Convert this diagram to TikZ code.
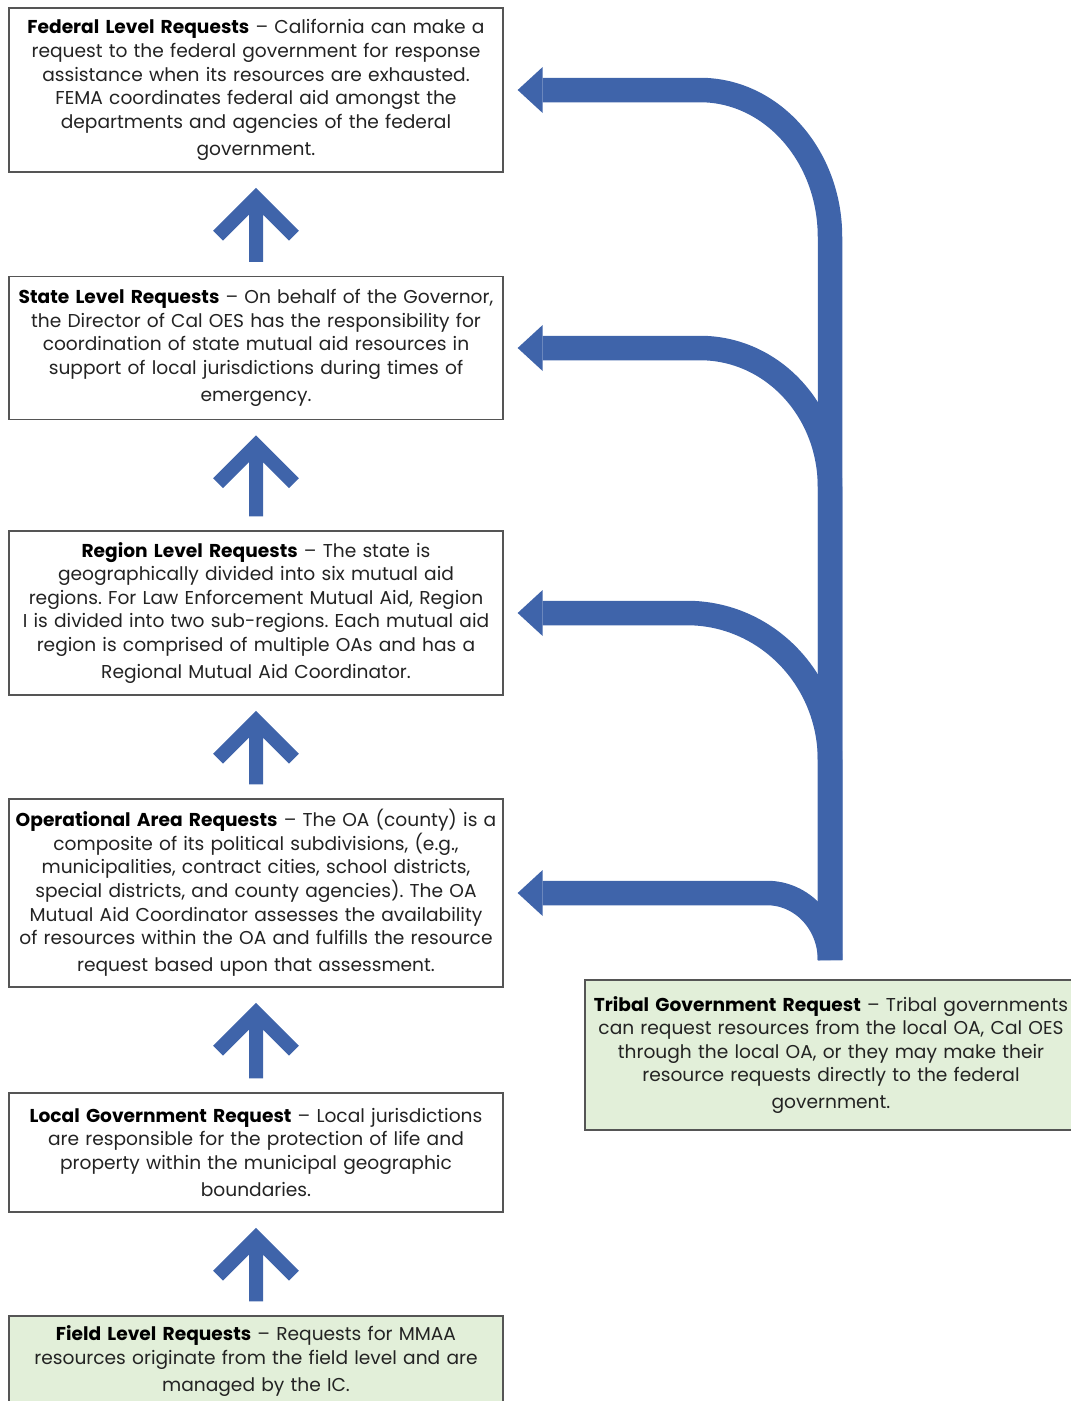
\documentclass[tikz,border=0pt]{standalone}
\usepackage{fontspec}
\setmainfont{Poppins}
\frenchspacing
\usepackage{xcolor}
\usepackage{tikz}
\usetikzlibrary{calc, arrows.meta}
\definecolor{flowblue}{RGB}{63, 100, 170}
\definecolor{paleg}{RGB}{226, 239, 217}
\definecolor{boxline}{RGB}{85, 85, 85}
\definecolor{bodytext}{RGB}{35, 35, 35}

\tikzset{
    reqbox/.style={draw=boxline, line width=0.8pt, fill=white, align=center,
        inner sep=0pt, text width=9.8cm, minimum width=9.88cm,
        font=\fontsize{10.6}{13.4}\selectfont, text=bodytext},
    greenbox/.style={reqbox, fill=paleg},
    chevron/.style={draw=flowblue, line width=0.28cm, line join=miter},
    branch/.style={draw=flowblue, line width=0.49cm,
        -{Triangle[length=0.5cm, width=0.92cm, line width=0pt]}}
}

\begin{document}
\begin{tikzpicture}[x=0.02cm, y=-0.02cm]
    \useasboundingbox (0,0) rectangle (1071,1401);

    % request levels, top to bottom
    \node[reqbox, minimum height=3.28cm] (federal) at (256,90)
        {\textbf{\color{black}Federal Level Requests} – California can make a\\
         request to the federal government for response\\
         assistance when its resources are exhausted.\\
         FEMA coordinates federal aid amongst the\\
         departments and agencies of the federal\\[2pt]
         government.};
    \node[reqbox, minimum height=2.86cm] (state) at (256,348)
        {\textbf{\color{black}State Level Requests} – On behalf of the Governor,\\
         the Director of Cal OES has the responsibility for\\
         coordination of state mutual aid resources in\\
         support of local jurisdictions during times of\\[2pt]
         emergency.};
    \node[reqbox, minimum height=3.28cm] (region) at (256,613)
        {\textbf{\color{black}Region Level Requests} – The state is\\
         geographically divided into six mutual aid\\
         regions. For Law Enforcement Mutual Aid, Region\\
         I is divided into two sub-regions. Each mutual aid\\
         region is comprised of multiple OAs and has a\\[2pt]
         Regional Mutual Aid Coordinator.};
    \node[reqbox, minimum height=3.76cm] (oa) at (256,893)
        {\textbf{\color{black}Operational Area Requests} – The OA (county) is a\\
         composite of its political subdivisions, (e.g.,\\
         municipalities, contract cities, school districts,\\
         special districts, and county agencies). The OA\\
         Mutual Aid Coordinator assesses the availability\\
         of resources within the OA and fulfills the resource\\[2pt]
         request based upon that assessment.};
    \node[reqbox, minimum height=2.38cm] (local) at (256,1152.5)
        {\textbf{\color{black}Local Government Request} – Local jurisdictions\\
         are responsible for the protection of life and\\
         property within the municipal geographic\\[2pt]
         boundaries.};
    \node[greenbox, minimum height=1.8cm] (field) at (256,1361)
        {\textbf{\color{black}Field Level Requests} – Requests for MMAA\\
         resources originate from the field level and are\\[2pt]
         managed by the IC.};

    % tribal request, right side
    \node[greenbox, minimum width=9.84cm, minimum height=3cm] (tribal) at (831,1055)
        {\textbf{\color{black}Tribal Government Request} – Tribal governments\\
         can request resources from the local OA, Cal OES\\
         through the local OA, or they may make their\\
         resource requests directly to the federal\\[2pt]
         government.};

    % upward steps
    \foreach \lo/\hi in {field/local, local/oa, oa/region, region/state, state/federal} {
        \coordinate (v) at ($(\hi.south)+(0,25)$);
        \draw[chevron] ($(\lo.north)+(0,-14)$) -- (v)
            ($(v)+(-38,38)$) -- (v) -- ($(v)+(38,38)$);
    }

    % tribal branches
    \coordinate (trunk) at (830,960);
    \draw[branch] (trunk) -- (830,237) .. controls (830,156) and (772,90) .. (700,90)
        -- ($(federal.east)+(14,0)$);
    \draw[branch] (trunk) -- (830,487) .. controls (830,410) and (772,348) .. (700,348)
        -- ($(state.east)+(14,0)$);
    \draw[branch] (trunk) -- (830,760) .. controls (830,679) and (766,613) .. (687,613)
        -- ($(region.east)+(14,0)$);
    \draw[branch] (trunk) .. controls (830,923) and (802,893) .. (767,893)
        -- ($(oa.east)+(14,0)$);
\end{tikzpicture}
\end{document}
